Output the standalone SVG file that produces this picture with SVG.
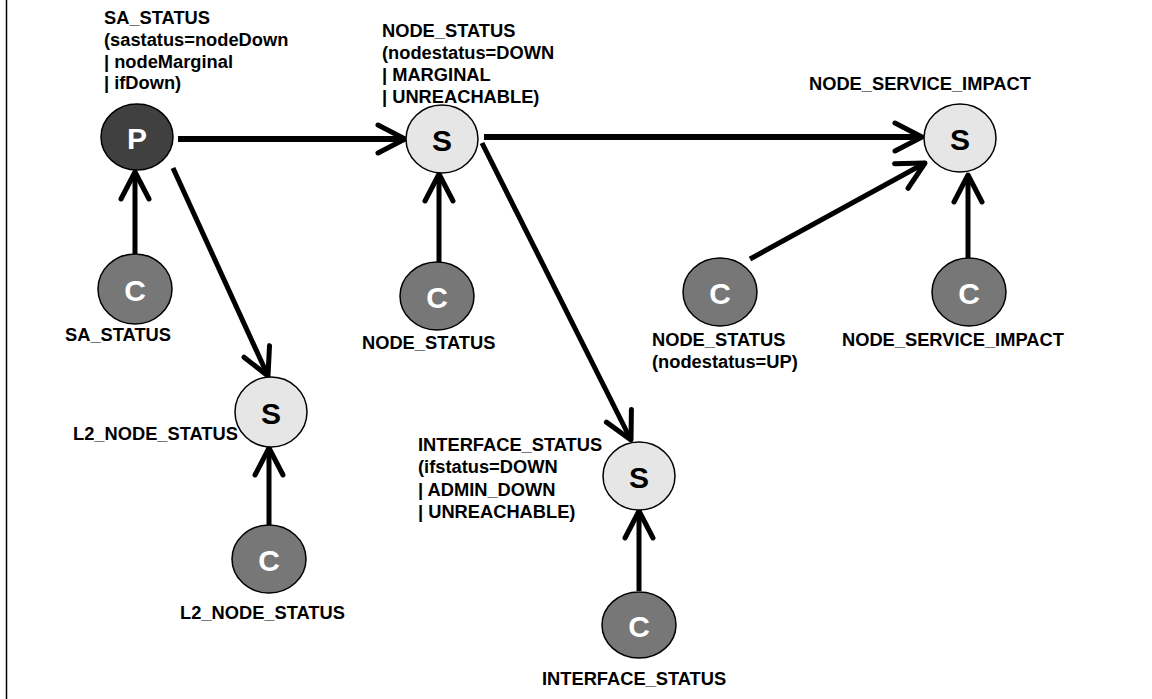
<svg xmlns="http://www.w3.org/2000/svg" width="1152" height="699" viewBox="0 0 1152 699">
  <style>
    .lbl { font-family: "Liberation Sans", Arial, sans-serif; font-weight: bold; font-size: 18.3px; fill: #000; }
    .sym { font-family: "Liberation Sans", Arial, sans-serif; font-weight: bold; font-size: 30px; text-anchor: middle; dominant-baseline: central; }
    .p { fill: #404040; stroke: #000; stroke-width: 1.5; }
    .s { fill: #e6e6e6; stroke: #000; stroke-width: 1.5; }
    .c { fill: #777777; stroke: #000; stroke-width: 1.5; }
    .wt { fill: #fff; }
    .bk { fill: #000; }
    .edge { stroke: #000; stroke-width: 5; fill: none; marker-end: url(#chev); }
    .edge.h { stroke-width: 6; }
  </style>
  <defs>
    <marker id="chev" markerUnits="userSpaceOnUse" markerWidth="60" markerHeight="60" refX="0" refY="0" orient="auto" overflow="visible">
      <path d="M-27,-14 L0,0 L-27,14" fill="none" stroke="#000" stroke-width="5" stroke-linecap="round" stroke-linejoin="round"/>
    </marker>
  </defs>

  <rect x="0" y="0" width="1152" height="699" fill="#fff"/>
  <line x1="6.5" y1="0" x2="6.5" y2="699" stroke="#000" stroke-width="1.5"/>

  <!-- connectors -->
  <g id="connectors">
    <line class="edge" x1="135" y1="254" x2="135" y2="172"/>
    <line class="edge h" x1="178" y1="139" x2="405" y2="139"/>
    <line class="edge" x1="173" y1="168" x2="268" y2="376"/>
    <line class="edge" x1="439" y1="262" x2="439" y2="174"/>
    <line class="edge h" x1="484" y1="137" x2="922" y2="137"/>
    <line class="edge" x1="482" y1="143" x2="631" y2="440"/>
    <line class="edge" x1="750" y1="259" x2="925" y2="163"/>
    <line class="edge" x1="968" y1="258" x2="968" y2="175"/>
    <line class="edge" x1="639" y1="591" x2="639" y2="511"/>
    <line class="edge" x1="269" y1="525" x2="269" y2="448"/>
  </g>

  <!-- primary -->
  <g id="p-sa-status">
    <ellipse class="p" cx="137" cy="137" rx="36" ry="33"/>
    <text class="sym wt" x="137" y="138">P</text>
    <text class="lbl" x="104" y="24">SA_STATUS</text>
    <text class="lbl" x="104" y="46">(sastatus=nodeDown</text>
    <text class="lbl" x="104" y="68">| nodeMarginal</text>
    <text class="lbl" x="104" y="89">| ifDown)</text>
  </g>

  <!-- secondaries -->
  <g id="s-node-status">
    <ellipse class="s" cx="442" cy="139" rx="36" ry="34"/>
    <text class="sym bk" x="442" y="140">S</text>
    <text class="lbl" x="382" y="37">NODE_STATUS</text>
    <text class="lbl" x="382" y="59">(nodestatus=DOWN</text>
    <text class="lbl" x="382" y="81">| MARGINAL</text>
    <text class="lbl" x="382" y="103">| UNREACHABLE)</text>
  </g>

  <g id="s-node-service-impact">
    <ellipse class="s" cx="960" cy="138" rx="36" ry="34"/>
    <text class="sym bk" x="960" y="139">S</text>
    <text class="lbl" x="809" y="90">NODE_SERVICE_IMPACT</text>
  </g>

  <g id="s-l2-node-status">
    <ellipse class="s" cx="271" cy="412" rx="36" ry="35"/>
    <text class="sym bk" x="271" y="413">S</text>
    <text class="lbl" x="73" y="440">L2_NODE_STATUS</text>
  </g>

  <g id="s-interface-status">
    <ellipse class="s" cx="639" cy="476" rx="36" ry="34"/>
    <text class="sym bk" x="639" y="477">S</text>
    <text class="lbl" x="418" y="451">INTERFACE_STATUS</text>
    <text class="lbl" x="418" y="473">(ifstatus=DOWN</text>
    <text class="lbl" x="418" y="496">| ADMIN_DOWN</text>
    <text class="lbl" x="418" y="518">| UNREACHABLE)</text>
  </g>

  <!-- correlation inputs -->
  <g id="c-sa-status">
    <ellipse class="c" cx="135" cy="289" rx="37" ry="35"/>
    <text class="sym wt" x="135" y="290">C</text>
    <text class="lbl" x="65" y="341">SA_STATUS</text>
  </g>

  <g id="c-node-status">
    <ellipse class="c" cx="437" cy="296" rx="37" ry="34"/>
    <text class="sym wt" x="437" y="297">C</text>
    <text class="lbl" x="362" y="349">NODE_STATUS</text>
  </g>

  <g id="c-node-status-up">
    <ellipse class="c" cx="720" cy="292" rx="37" ry="34"/>
    <text class="sym wt" x="720" y="293">C</text>
    <text class="lbl" x="652" y="346">NODE_STATUS</text>
    <text class="lbl" x="652" y="368">(nodestatus=UP)</text>
  </g>

  <g id="c-node-service-impact">
    <ellipse class="c" cx="969" cy="292" rx="37" ry="34"/>
    <text class="sym wt" x="969" y="293">C</text>
    <text class="lbl" x="842" y="346">NODE_SERVICE_IMPACT</text>
  </g>

  <g id="c-l2-node-status">
    <ellipse class="c" cx="269" cy="559" rx="37" ry="34"/>
    <text class="sym wt" x="269" y="560">C</text>
    <text class="lbl" x="180" y="619">L2_NODE_STATUS</text>
  </g>

  <g id="c-interface-status">
    <ellipse class="c" cx="639" cy="625" rx="37" ry="33"/>
    <text class="sym wt" x="639" y="626">C</text>
    <text class="lbl" x="542" y="685">INTERFACE_STATUS</text>
  </g>
</svg>
